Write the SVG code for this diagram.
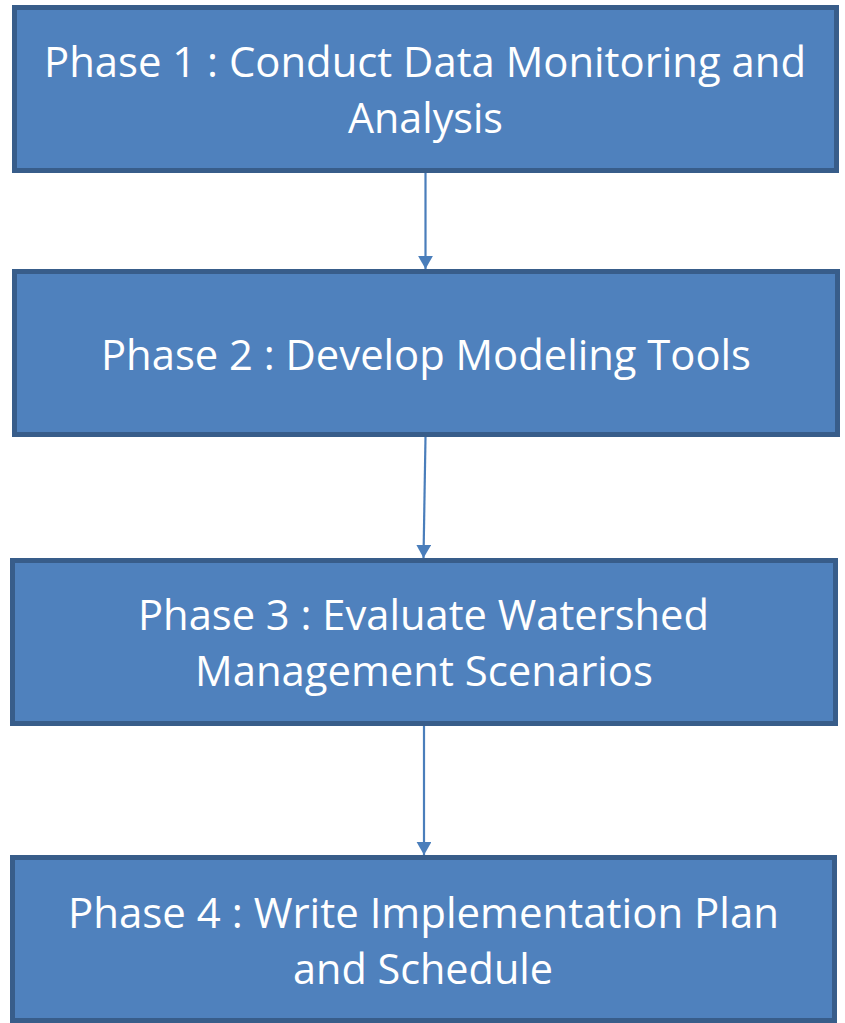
<svg xmlns="http://www.w3.org/2000/svg" width="845" height="1023" viewBox="0 0 845 1023">
  <style>
    .box { fill: #4f81bd; stroke: #385d8a; stroke-width: 5; }
    .label { fill: #ffffff; font-family: "Open Sans", "Noto Sans", "Liberation Sans", sans-serif; font-size: 41.5px; text-anchor: middle; }
    .link { stroke: #4a7ebb; stroke-width: 2.2; fill: none; }
  </style>
  <defs>
    <marker id="arrow" markerWidth="7" markerHeight="7" refX="6" refY="3.4" orient="auto" markerUnits="strokeWidth">
      <path d="M0,0 L6,3.4 L0,6.8 Z" fill="#4a7ebb"/>
    </marker>
  </defs>

  <g id="connectors">
    <line class="link" x1="425.5" y1="173" x2="425.5" y2="269" marker-end="url(#arrow)"/>
    <line class="link" x1="425.5" y1="437" x2="423.5" y2="558" marker-end="url(#arrow)"/>
    <line class="link" x1="424" y1="726" x2="424" y2="855" marker-end="url(#arrow)"/>
  </g>

  <g id="phase1">
    <rect class="box" x="14.5" y="7.5" width="822" height="163"/>
    <text class="label" x="425" y="77" textLength="762" lengthAdjust="spacingAndGlyphs">Phase 1 : Conduct Data Monitoring and</text>
    <text class="label" x="425.5" y="133" textLength="155" lengthAdjust="spacingAndGlyphs">Analysis</text>
  </g>

  <g id="phase2">
    <rect class="box" x="14.5" y="271.5" width="823" height="163"/>
    <text class="label" x="426" y="370" textLength="650" lengthAdjust="spacingAndGlyphs">Phase 2 : Develop Modeling Tools</text>
  </g>

  <g id="phase3">
    <rect class="box" x="12.5" y="560.5" width="823" height="163"/>
    <text class="label" x="423.5" y="630" textLength="571" lengthAdjust="spacingAndGlyphs">Phase 3 : Evaluate Watershed</text>
    <text class="label" x="424" y="686" textLength="458" lengthAdjust="spacingAndGlyphs">Management Scenarios</text>
  </g>

  <g id="phase4">
    <rect class="box" x="12.5" y="857.5" width="822" height="163"/>
    <text class="label" x="423.5" y="928" textLength="711" lengthAdjust="spacingAndGlyphs">Phase 4 : Write Implementation Plan</text>
    <text class="label" x="423" y="984" textLength="260" lengthAdjust="spacingAndGlyphs">and Schedule</text>
  </g>
</svg>
